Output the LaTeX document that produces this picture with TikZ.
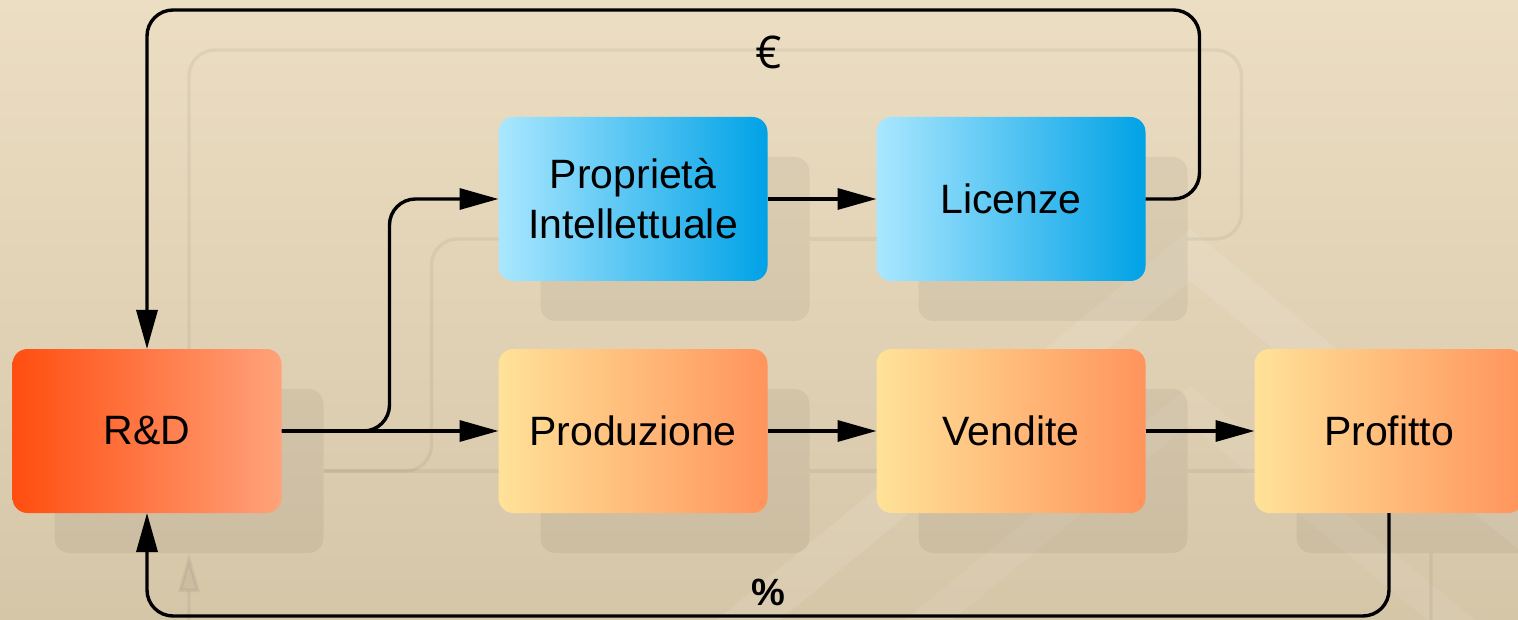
\documentclass[tikz,border=0pt]{standalone}
\usepackage{fontspec}
\setmainfont{Liberation Sans}
\newfontfamily\eurofont{Open Sans}
\usetikzlibrary{positioning,arrows.meta,backgrounds}

\definecolor{bgtop}{RGB}{236,222,195}
\definecolor{bgbot}{RGB}{214,198,168}
\definecolor{rdleft}{RGB}{255,78,16}
\definecolor{rdright}{RGB}{255,162,122}
\definecolor{ipleft}{RGB}{170,231,255}
\definecolor{ipright}{RGB}{0,162,230}
\definecolor{opleft}{RGB}{255,226,152}
\definecolor{opright}{RGB}{255,148,92}

\begin{document}
\begin{tikzpicture}[x=1pt,y=1pt,
    box/.style={rectangle, rounded corners=15pt, minimum width=269pt, minimum height=164pt,
        inner sep=0pt, outer sep=0pt, align=center, font=\fontsize{41}{50}\selectfont},
    rdbox/.style={box, left color=rdleft, right color=rdright},
    ipbox/.style={box, left color=ipleft, right color=ipright},
    opbox/.style={box, left color=opleft, right color=opright},
    conn/.style={line width=3.4pt, rounded corners=26pt, -{Triangle[length=39pt,width=21pt]}},
    ghost/.style={line width=3.4pt, rounded corners=26pt, draw=black, opacity=0.05, -{Triangle[length=39pt,width=21pt]}},
    ghostbox/.style={fill=black, opacity=0.05, rounded corners=15pt},
    band/.style={draw=white, line cap=butt}]

    \useasboundingbox (0,0) rectangle (1518,-620);

    \node[rdbox] (rd) at (147,-431) {R\&D};
    \node[opbox, right=217pt of rd] (prod) {Produzione};
    \node[opbox, right=109pt of prod] (vend) {Vendite};
    \node[opbox, right=109pt of vend] (prof) {Profitto};
    \node[ipbox, above=68pt of prod] (ip) {Proprietà\\Intellettuale};
    \node[ipbox, above=68pt of vend] (lic) {Licenze};

    \draw[conn] (rd.east) -- (prod.west);
    \draw[conn] (rd.east) -- ++(108,0) |- (ip.west);
    \draw[conn] (ip.east) -- (lic.west);
    \draw[conn] (prod.east) -- (vend.west);
    \draw[conn] (vend.east) -- (prof.west);
    \draw[conn] (lic.east) -- ++(54,0) -- ++(0,189) -| (rd.north);
    \draw[conn] (prof.south) -- ++(0,-103) -| (rd.south);

    \node[font=\eurofont\fontsize{45}{45}\selectfont] (euro) at (769,-52) {€};
    \node[font=\bfseries\fontsize{38}{38}\selectfont] (pct) at (768,-592) {\%};

    \begin{scope}[on background layer]
        \shade[top color=bgtop, bottom color=bgbot] (0,0) rectangle (1518,-620);
        \draw[band, opacity=0.10, line width=40pt] (700,-660) -- (1190,-255) -- (1600,-590);
        \draw[band, opacity=0.07, line width=30pt] (880,-660) -- (1190,-405) -- (1500,-660);
        \begin{scope}[transform canvas={shift={(42pt,-40pt)}}]
            \foreach \n in {rd,ip,lic,prod,vend,prof}
                \fill[ghostbox] (\n.south west) rectangle (\n.north east);
            \draw[ghost] (rd.east) -- (prod.west);
            \draw[ghost] (rd.east) -- ++(108,0) |- (ip.west);
            \draw[ghost] (ip.east) -- (lic.west);
            \draw[ghost] (prod.east) -- (vend.west);
            \draw[ghost] (vend.east) -- (prof.west);
            \draw[ghost] (lic.east) -- ++(54,0) -- ++(0,189) -| (rd.north);
            \draw[ghost] (prof.south) -- ++(0,-103) -| (rd.south);
        \end{scope}
    \end{scope}

\end{tikzpicture}
\end{document}
